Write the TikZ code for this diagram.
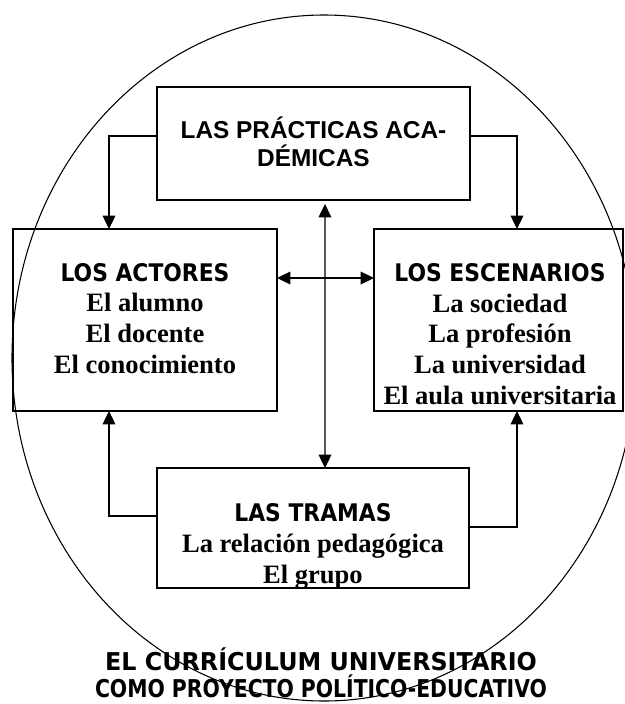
\documentclass[tikz,border=0pt]{standalone}
\usepackage{fontspec}
\usepackage{graphicx}
\setmainfont{Liberation Serif}
\newfontfamily\arialf{Liberation Sans}
\newfontfamily\tahf[FakeStretch=0.9]{DejaVu Sans}
\newfontfamily\tahtitle{DejaVu Sans}
\usetikzlibrary{arrows.meta}
\begin{document}
\begin{tikzpicture}[x=0.75pt,y=-0.75pt,
  box/.style={draw, line width=1.5pt, inner sep=0pt, outer sep=0pt},
  conn/.style={line width=0.9pt},
  tip/.style={-{Triangle[length=10pt,width=9.5pt]}},
  dtip/.style={{Triangle[length=10pt,width=9.5pt]}-{Triangle[length=10pt,width=9.5pt]}},
  serifl/.style={font=\fontsize{19.9}{22.9}\selectfont\bfseries, align=center, inner sep=0pt}
]
\useasboundingbox (0,0) rectangle (625,704);
% ellipse
\draw[line width=0.8pt] (324,358) ellipse [x radius=312, y radius=343];
% boxes
\node[box, minimum width=234.75pt, minimum height=84.75pt] (prac) at (313.5,143.5) {};
\node[box, minimum width=198pt, minimum height=136.5pt] (act) at (145,320) {};
\node[box, minimum width=186.75pt, minimum height=136.5pt] (esc) at (498.5,320) {};
\node[box, minimum width=234pt, minimum height=90pt] (tra) at (313,528) {};
% texts (base anchor = baseline of the last line)
\node[anchor=base, align=center, inner sep=0pt,
      font=\arialf\fontsize{18.3}{21}\selectfont\bfseries] (pract) at (313.5,166)
  {LAS PRÁCTICAS ACA-\\DÉMICAS};
\node[serifl, anchor=base] (actt) at (145,373)
  {{\tahf\fontsize{18.2}{22.9}\selectfont LOS ACTORES}\\El alumno\\El docente\\El conocimiento};
\node[serifl, anchor=base] (esct) at (500,404)
  {{\tahf\fontsize{18.2}{22.9}\selectfont LOS ESCENARIOS}\\La sociedad\\La profesión\\La universidad\\El aula universitaria};
\node[serifl, anchor=base, font=\fontsize{19.9}{23.25}\selectfont\bfseries] (trat) at (313,583)
  {{\tahf\fontsize{18.2}{23.25}\selectfont LAS TRAMAS}\\La relación pedagógica\\El grupo};
\node[anchor=base, align=center, inner sep=0pt,
      font=\tahtitle\fontsize{18.4}{20.25}\selectfont\bfseries] (title) at (321,697)
  {\scalebox{0.97}[1]{EL CURRÍCULUM UNIVERSITARIO}\\\scalebox{0.83}[1]{COMO PROYECTO POLÍTICO-EDUCATIVO}};
% connectors
\draw[conn, tip] ([yshift=5.6pt]prac.west) -| ([xshift=-27pt]act.north);
\draw[conn, tip] ([yshift=5.6pt]prac.east) -| ([xshift=13.875pt]esc.north);
\draw[conn, dtip] ([xshift=8.6pt,yshift=-3pt]prac.south) -- ([xshift=9pt]tra.north);
\draw[conn, dtip] ([yshift=31.5pt]act.east) -- ([yshift=31.5pt]esc.west);
\draw[conn, tip] ([yshift=9pt]tra.west) -| ([xshift=-27pt]act.south);
\draw[conn, tip] ([yshift=0.75pt]tra.east) -| ([xshift=13.875pt]esc.south);
\end{tikzpicture}
\end{document}
